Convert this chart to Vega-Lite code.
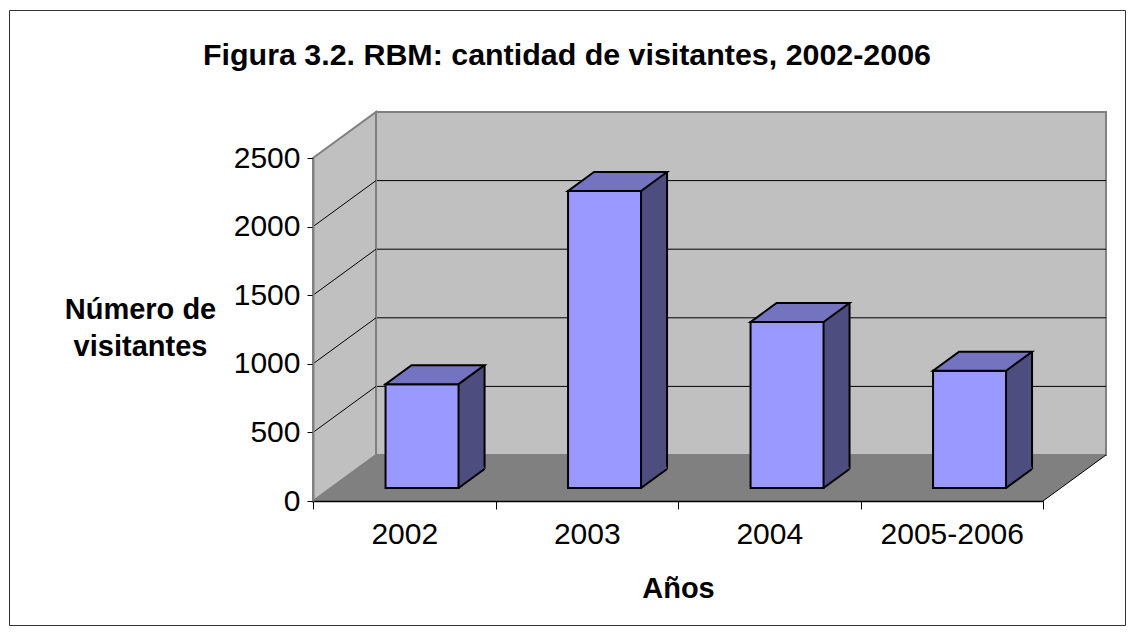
{
  "$schema": "https://vega.github.io/schema/vega-lite/v6.json",
  "width": 1116,
  "height": 615,
  "autosize": "none",
  "padding": {"left": 9, "top": 10, "right": 10, "bottom": 10},
  "background": "white",
  "config": {"view": {"stroke": "#333333", "strokeWidth": 1}, "font": "Liberation Sans"},
  "title": {"text": "Figura 3.2. RBM: cantidad de visitantes, 2002-2006", "font": "Liberation Sans", "fontSize": 30.4, "fontWeight": "bold", "color": "black", "anchor": "middle", "offset": -54, "dy": 31, "baseline": "alphabetic"},
  "datasets": {
    "bars": [
      {"anio": "2002", "visitantes": 757},
      {"anio": "2003", "visitantes": 2165},
      {"anio": "2004", "visitantes": 1210},
      {"anio": "2005-2006", "visitantes": 855}
    ],
    "grid": [{"v": 500}, {"v": 1000}, {"v": 1500}, {"v": 2000}]
  },
  "data": {"name": "bars"},
  "resolve": {"scale": {"x": "independent", "y": "independent"}},
  "layer": [
    {
      "layer": [
        {
          "transform": [{"aggregate": [{"op": "count", "as": "n"}]}],
          "mark": {"type": "rect", "fill": "#c0c0c0", "stroke": "#808080", "strokeWidth": 2},
          "encoding": {
            "x": {"datum": 0, "type": "quantitative", "scale": {"domain": [0, 4], "range": [367, 1097], "nice": false, "zero": false}, "axis": null},
            "x2": {"datum": 4},
            "y": {"datum": 0, "type": "quantitative", "scale": {"domain": [0, 2500], "range": [445, 102], "nice": false}, "axis": null},
            "y2": {"datum": 2500}
          }
        },
        {
          "data": {"name": "grid"},
          "mark": {"type": "rule", "color": "black", "strokeWidth": 1},
          "encoding": {
            "x": {"datum": 0, "type": "quantitative", "scale": {"domain": [0, 4], "range": [367, 1097], "nice": false, "zero": false}, "axis": null},
            "x2": {"datum": 4},
            "y": {"field": "v", "type": "quantitative", "scale": {"domain": [0, 2500], "range": [445, 102], "nice": false}, "axis": null}
          }
        }
      ]
    },
    {
      "transform": [{"aggregate": [{"op": "count", "as": "n"}]}],
      "mark": {"type": "point", "shape": "M0,0L0,-343L63,-389L63,-46Z", "size": 4, "filled": true, "fill": "#c0c0c0", "stroke": "#808080", "strokeWidth": 2, "opacity": 1},
      "encoding": {
        "x": {"datum": "2002", "type": "nominal", "bandPosition": 0, "scale": {"type": "band", "domain": ["2002", "2003", "2004", "2005-2006"], "range": [304, 1034], "paddingInner": 0, "paddingOuter": 0}, "axis": null},
        "y": {"datum": 0, "type": "quantitative", "scale": {"domain": [0, 2500], "range": [491, 148], "nice": false}, "axis": null}
      }
    },
    {
      "data": {"name": "grid"},
      "mark": {"type": "point", "shape": "M0,0L63,-46", "size": 4, "filled": false, "stroke": "black", "strokeWidth": 1, "opacity": 1},
      "encoding": {
        "x": {"datum": "2002", "type": "nominal", "bandPosition": 0, "scale": {"type": "band", "domain": ["2002", "2003", "2004", "2005-2006"], "range": [304, 1034], "paddingInner": 0, "paddingOuter": 0}, "axis": null},
        "y": {"field": "v", "type": "quantitative", "scale": {"domain": [0, 2500], "range": [491, 148], "nice": false}, "axis": null}
      }
    },
    {
      "transform": [{"aggregate": [{"op": "count", "as": "n"}]}],
      "mark": {"type": "point", "shape": "M0,0L730,0L793,-46L63,-46Z", "size": 4, "filled": true, "fill": "#808080", "strokeWidth": 0, "opacity": 1},
      "encoding": {
        "x": {"datum": "2002", "type": "nominal", "bandPosition": 0, "scale": {"type": "band", "domain": ["2002", "2003", "2004", "2005-2006"], "range": [304, 1034], "paddingInner": 0, "paddingOuter": 0},
          "axis": {"orient": "bottom", "offset": -124, "tickBand": "extent", "domainColor": "black", "domainWidth": 1.5, "tickColor": "black", "tickSize": 8, "tickWidth": 1, "labelFont": "Liberation Sans", "labelFontSize": 30, "labelColor": "black", "labelPadding": 10, "labelAngle": 0, "grid": false, "zindex": 1, "title": "Años", "titleFont": "Liberation Sans", "titleFontSize": 29, "titleFontWeight": "bold", "titleColor": "black", "titleY": 96, "titleBaseline": "alphabetic"}},
        "y": {"datum": 0, "type": "quantitative", "scale": {"domain": [0, 2500], "range": [491, 148], "nice": false},
          "axis": {"orient": "left", "offset": -304, "values": [0, 500, 1000, 1500, 2000, 2500], "format": "d", "domainColor": "#808080", "domainWidth": 2, "tickColor": "black", "tickSize": 6, "tickWidth": 1, "labelFont": "Liberation Sans", "labelFontSize": 30, "labelColor": "black", "labelPadding": 7, "labelFlush": false, "grid": false, "zindex": 1, "title": ["Número de", "visitantes"], "titleFont": "Liberation Sans", "titleFontSize": 29, "titleFontWeight": "bold", "titleColor": "black", "titleAngle": 0, "titleAlign": "center", "titleBaseline": "alphabetic", "titleX": -173, "titleY": 308, "titleLineHeight": 37}}
      }
    },
    {
      "transform": [{"aggregate": [{"op": "count", "as": "n"}]}],
      "mark": {"type": "point", "shape": "M730,0L793,-46", "size": 4, "filled": false, "stroke": "black", "strokeWidth": 1, "opacity": 1},
      "encoding": {
        "x": {"datum": "2002", "type": "nominal", "bandPosition": 0, "scale": {"type": "band", "domain": ["2002", "2003", "2004", "2005-2006"], "range": [304, 1034], "paddingInner": 0, "paddingOuter": 0}, "axis": null},
        "y": {"datum": 0, "type": "quantitative", "scale": {"domain": [0, 2500], "range": [491, 148], "nice": false}, "axis": null}
      }
    },
    {
      "layer": [
        {
          "mark": {"type": "rect", "fill": "#4d4d80", "strokeWidth": 0},
          "encoding": {
            "x": {"field": "anio", "type": "nominal", "scale": {"type": "band", "domain": ["2002", "2003", "2004", "2005-2006"], "range": [449.55, 1023.05], "paddingInner": 0.8575, "paddingOuter": 0}, "axis": null},
            "y": {"field": "visitantes", "type": "quantitative", "scale": {"domain": [0, 2500], "range": [459, 116], "nice": false}, "axis": null},
            "y2": {"datum": 0}
          }
        },
        {
          "mark": {"type": "rule", "color": "black", "strokeWidth": 2},
          "encoding": {
            "x": {"field": "anio", "type": "nominal", "bandPosition": 1, "scale": {"type": "band", "domain": ["2002", "2003", "2004", "2005-2006"], "range": [449.55, 1023.05], "paddingInner": 0.8575, "paddingOuter": 0}, "axis": null},
            "y": {"field": "visitantes", "type": "quantitative", "scale": {"domain": [0, 2500], "range": [459, 116], "nice": false}, "axis": null},
            "y2": {"datum": 0}
          }
        }
      ]
    },
    {
      "layer": [
        {
          "mark": {"type": "point", "shape": "M0,0L0,-21L26,-21L26,-19Z", "size": 4, "filled": true, "fill": "#4d4d80", "strokeWidth": 0, "opacity": 1},
          "encoding": {
            "x": {"field": "anio", "type": "nominal", "bandPosition": 1, "scale": {"type": "band", "domain": ["2002", "2003", "2004", "2005-2006"], "range": [321.8, 1051.8], "paddingInner": 0.6, "paddingOuter": 0.3}, "axis": null},
            "y": {"datum": 0, "type": "quantitative", "scale": {"domain": [0, 2500], "range": [478, 135], "nice": false}, "axis": null}
          }
        },
        {
          "mark": {"type": "rect", "fill": "#9999ff", "stroke": "black", "strokeWidth": 2},
          "encoding": {
            "x": {"field": "anio", "type": "nominal", "scale": {"type": "band", "domain": ["2002", "2003", "2004", "2005-2006"], "range": [321.8, 1051.8], "paddingInner": 0.6, "paddingOuter": 0.3}, "axis": null},
            "y": {"field": "visitantes", "type": "quantitative", "scale": {"domain": [0, 2500], "range": [478, 135], "nice": false}, "axis": null},
            "y2": {"datum": 0}
          }
        },
        {
          "mark": {"type": "point", "shape": "M0,0L73,0L99,-19L26,-19Z", "size": 4, "filled": true, "fill": "#7373bf", "stroke": "black", "strokeWidth": 2, "opacity": 1},
          "encoding": {
            "x": {"field": "anio", "type": "nominal", "bandPosition": 0, "scale": {"type": "band", "domain": ["2002", "2003", "2004", "2005-2006"], "range": [321.8, 1051.8], "paddingInner": 0.6, "paddingOuter": 0.3}, "axis": null},
            "y": {"field": "visitantes", "type": "quantitative", "scale": {"domain": [0, 2500], "range": [478, 135], "nice": false}, "axis": null}
          }
        },
        {
          "mark": {"type": "point", "shape": "M0,0L26,-19", "size": 4, "filled": false, "stroke": "black", "strokeWidth": 2, "opacity": 1},
          "encoding": {
            "x": {"field": "anio", "type": "nominal", "bandPosition": 1, "scale": {"type": "band", "domain": ["2002", "2003", "2004", "2005-2006"], "range": [321.8, 1051.8], "paddingInner": 0.6, "paddingOuter": 0.3}, "axis": null},
            "y": {"datum": 0, "type": "quantitative", "scale": {"domain": [0, 2500], "range": [478, 135], "nice": false}, "axis": null}
          }
        }
      ]
    }
  ]
}
